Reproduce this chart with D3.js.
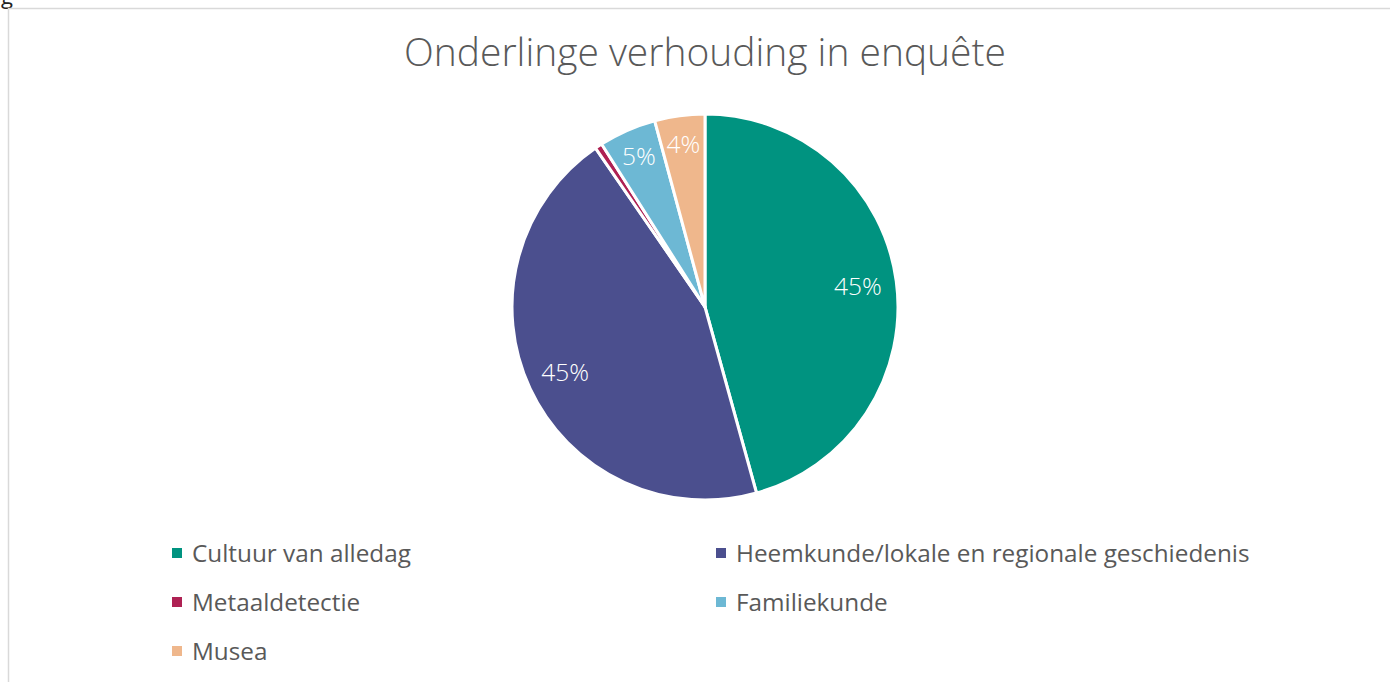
<!DOCTYPE html>
<html><head><meta charset="utf-8">
<script src="https://cdn.jsdelivr.net/npm/d3@7"></script>
<style>
html,body{margin:0;padding:0;background:#fff;}
svg{display:block;}
text{font-family:"Open Sans","Noto Sans",sans-serif;}
</style></head>
<body>
<svg id="chart" width="1390" height="682"></svg>
<script>
const title = "Onderlinge verhouding in enquête";
const categories = ["Cultuur van alledag","Heemkunde/lokale en regionale geschiedenis","Metaaldetectie","Familiekunde","Musea"];
const values = [45.7, 44.7, 0.6, 4.8, 4.2];
const labels = ["45%","45%","","5%","4%"];
const colors = ["#009380","#4B4F8E","#AE2153","#6DB8D4","#EFB78C"];

const svg = d3.select("#chart");

// partial glyph above frame (cropped in the reference)
svg.append("text").attr("x",1).attr("y",4).attr("font-size",22).attr("fill","#222").text("g");

// frame
svg.append("rect").attr("x",8.5).attr("y",8.5).attr("width",1400).attr("height",700)
  .attr("fill","#fff").attr("stroke","#d9d9d9").attr("stroke-width",1.5);

// title
const t = svg.append("text").attr("x",705).attr("y",66).attr("text-anchor","middle")
  .attr("font-size",34).attr("font-weight",300).attr("fill","#595959").text(title);
const tw = t.node().getComputedTextLength();
t.attr("font-size", 34*602/tw);

const cx = 705, cy = 307, r = 193;
const pie = d3.pie().sort(null).value(d=>d.v);
const arcs = pie(categories.map((c,i)=>({c, v:values[i], l:labels[i], col:colors[i]})));
const arc = d3.arc().innerRadius(0).outerRadius(r);
const g = svg.append("g").attr("transform",`translate(${cx},${cy})`);
g.selectAll("path").data(arcs).join("path")
  .attr("d",arc).attr("fill",d=>d.data.col).attr("stroke","#fff").attr("stroke-width",3).attr("stroke-linejoin","round");

g.selectAll("text.lbl").data(arcs.filter(d=>d.data.l)).join("text").attr("class","lbl")
  .attr("transform",d=>{
    const a=(d.startAngle+d.endAngle)/2;
    const rr = d.data.v<10 ? r*0.85 : r*0.8;
    return `translate(${Math.sin(a)*rr},${-Math.cos(a)*rr})`;})
  .attr("text-anchor","middle").attr("dy","0.35em").attr("font-size",24.5).attr("font-weight",300)
  .attr("fill","#fff").text(d=>d.data.l);

// legend
const colX = [172, 716], rowY = [553, 602, 651];
const lg = svg.append("g");
categories.forEach((c,i)=>{
  const x = colX[i%2], y = rowY[Math.floor(i/2)];
  lg.append("rect").attr("x",x).attr("y",y-5).attr("width",10).attr("height",10).attr("fill",colors[i]);
  lg.append("text").attr("x",x+20).attr("y",y).attr("dy","0.35em").attr("font-size",24.3)
    .attr("fill","#595959").text(c);
});
</script>
</body></html>
